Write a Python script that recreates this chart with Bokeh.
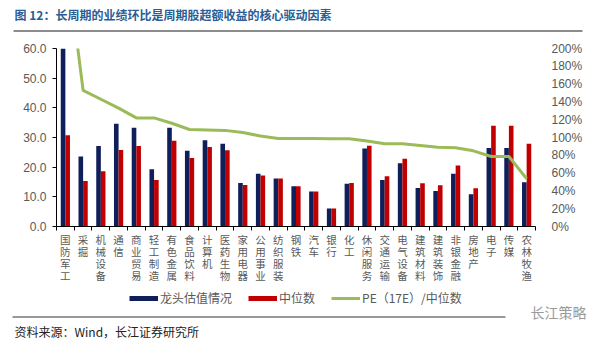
from bokeh.plotting import figure
from bokeh.layouts import column
from bokeh.models import (Range1d, LinearAxis, FixedTicker, NumeralTickFormatter,
                          Legend, LegendItem)
from bokeh.core.properties import value
from bokeh.embed import file_html
from bokeh.resources import INLINE

categories = ["国防军工", "采掘", "机械设备", "通信", "商业贸易", "轻工制造", "有色金属",
              "食品饮料", "计算机", "医药生物", "家用电器", "公用事业", "纺织服装", "钢铁",
              "汽车", "银行", "化工", "休闲服务", "交通运输", "电气设备", "建筑材料",
              "建筑装饰", "非银金融", "房地产", "电子", "传媒", "农林牧渔"]
leader_pe = [60.0, 23.6, 27.1, 34.6, 33.3, 19.3, 33.3, 25.5, 29.1, 27.9, 14.7, 17.8, 16.2, 13.6,
             11.8, 6.1, 14.4, 26.3, 15.7, 21.3, 13.0, 12.0, 17.8, 10.9, 26.5, 26.5, 14.9]
median_pe = [30.8, 15.3, 18.6, 25.8, 27.1, 15.7, 28.9, 23.1, 26.8, 25.7, 14.0, 17.2, 16.2, 13.6,
             11.8, 6.1, 14.7, 27.2, 16.9, 22.8, 14.6, 13.9, 20.6, 12.9, 34.0, 34.0, 27.9]
ratio = [3.10, 1.53, 1.43, 1.33, 1.22, 1.22, 1.16, 1.09, 1.085, 1.08, 1.056, 1.017, 0.99, 0.99,
         0.99, 0.985, 0.985, 0.96, 0.93, 0.93, 0.91, 0.89, 0.885, 0.85, 0.787, 0.787, 0.536]
left_ticks = [0, 10, 20, 30, 40, 50, 60]
right_ticks = [0.0, 0.2, 0.4, 0.6, 0.8, 1.0, 1.2, 1.4, 1.6, 1.8, 2.0]
series_names = ["龙头估值情况", "中位数", "PE（17E）/中位数"]
title_text = "图 12：长周期的业绩环比是周期股超额收益的核心驱动因素"
source_text = "资料来源：Wind，长江证券研究所"
brand_text = "长江策略"

NAVY = "#0f1f5a"
RED = "#c00000"
GREEN = "#9bbb59"
GRAY = "#595959"
CJK = "Noto Sans CJK SC"
LEFT, RIGHT = 56, 65


def strip(height, top, x_range=None, left=0, right=0):
    f = figure(width=600, height=height, output_backend="svg", toolbar_location=None,
               x_range=x_range if x_range is not None else Range1d(0, 600),
               y_range=Range1d(top + height, top),
               x_axis_type=None, y_axis_type=None, min_border=0,
               min_border_left=left, min_border_right=right,
               min_border_top=0, min_border_bottom=0)
    f.frame_align = False
    f.xgrid.visible = False
    f.ygrid.visible = False
    f.outline_line_color = None
    f.background_fill_color = "white"
    f.border_fill_color = "white"
    return f


# ---- title strip ----
top = strip(40, 0)
top.text(x=[14], y=[14], text=[title_text], text_font=value(CJK), text_font_size="12px",
         text_font_style="bold", text_color="#2a5d94", text_baseline="middle")
top.segment(x0=[13], y0=[30.5], x1=[582], y1=[30.5], line_color="#8c8c8c", line_width=2)

# ---- main chart ----
n = len(categories)
xs = list(range(1, n + 1))

p = figure(width=600, height=193, output_backend="svg", toolbar_location=None,
           x_range=Range1d(0.5, n + 0.5), y_range=Range1d(0, 60),
           min_border_left=LEFT, min_border_right=RIGHT, min_border_top=8, min_border_bottom=7)
p.frame_align = False
p.extra_y_ranges = {"pct": Range1d(0, 2.0)}
p.xgrid.visible = False
p.ygrid.visible = False
p.outline_line_color = None
p.background_fill_color = "white"
p.border_fill_color = "white"

bw = 0.26
p.vbar(x=[v - bw / 2 for v in xs], top=leader_pe, width=bw, fill_color=NAVY, line_color=None)
p.vbar(x=[v + bw / 2 for v in xs], top=median_pe, width=bw, fill_color=RED, line_color=None)
p.line(xs, ratio, y_range_name="pct", line_color=GREEN, line_width=3)

xa = p.xaxis[0]
xa.ticker = FixedTicker(ticks=[], minor_ticks=[v + 0.5 for v in range(0, n + 1)])
xa.major_tick_out = 0
xa.major_tick_in = 0
xa.minor_tick_out = 4
xa.minor_tick_in = 0
xa.minor_tick_line_color = "black"
xa.axis_line_color = "black"
xa.major_label_standoff = 0

ya = p.yaxis[0]
ya.ticker = FixedTicker(ticks=left_ticks)
ya.formatter = NumeralTickFormatter(format="0.0")
ya.major_tick_out = 4
ya.major_tick_in = 0
ya.minor_tick_line_color = None
ya.axis_line_color = "black"
ya.major_label_text_font = "Liberation Sans"
ya.major_label_text_font_size = "12px"
ya.major_label_text_color = GRAY
ya.major_label_standoff = 6

ra = LinearAxis(y_range_name="pct", ticker=FixedTicker(ticks=right_ticks),
                formatter=NumeralTickFormatter(format="0%"))
ra.axis_line_color = None
ra.major_tick_line_color = None
ra.minor_tick_line_color = None
ra.major_label_text_font = "Liberation Sans"
ra.major_label_text_font_size = "12px"
ra.major_label_text_color = GRAY
ra.major_label_standoff = 10
p.add_layout(ra, "right")

# ---- category labels strip (vertical stacked characters) ----
lab = strip(55, 0, x_range=p.x_range, left=LEFT, right=RIGHT)
lab_x, lab_y, lab_t = [], [], []
for i, name in enumerate(categories):
    for j, ch in enumerate(name):
        lab_x.append(xs[i])
        lab_y.append(5.5 + 12 * j)
        lab_t.append(ch)
lab.text(x=lab_x, y=lab_y, text=lab_t, text_font=value(CJK), text_font_size="10.5px",
         text_color=GRAY, text_align="center", text_baseline="middle")

# ---- bottom strip: legend, rule, source ----
bot = strip(58, 288)
d1 = bot.line([-100, -90], [0, 0], line_color=NAVY, line_width=5)
d2 = bot.line([-100, -90], [0, 0], line_color=RED, line_width=5)
d3 = bot.line([-100, -90], [0, 0], line_color=GREEN, line_width=3)
legend = Legend(items=[LegendItem(label=series_names[0], renderers=[d1]),
                       LegendItem(label=series_names[1], renderers=[d2]),
                       LegendItem(label=series_names[2], renderers=[d3])],
                orientation="horizontal", location=(129, 40),
                border_line_alpha=0, background_fill_alpha=0, margin=0, padding=0,
                spacing=16, glyph_width=29, glyph_height=14, label_standoff=2,
                label_height=14,
                label_text_font=CJK, label_text_font_size="12px", label_text_color=GRAY)
bot.add_layout(legend)
bot.segment(x0=[12], y0=[316.5], x1=[505], y1=[316.5], line_color="#333333", line_width=1)
bot.text(x=[14], y=[331], text=[source_text], text_font=value(CJK), text_font_size="12px",
         text_color="#222222", text_baseline="middle")
bot.text(x=[530], y=[311], text=[brand_text], text_font=value(CJK), text_font_size="14px",
         text_color="#9a9a9a", text_baseline="middle")

layout = column(top, p, lab, bot, spacing=0)
open("out.html", "w").write(file_html(layout, INLINE))
